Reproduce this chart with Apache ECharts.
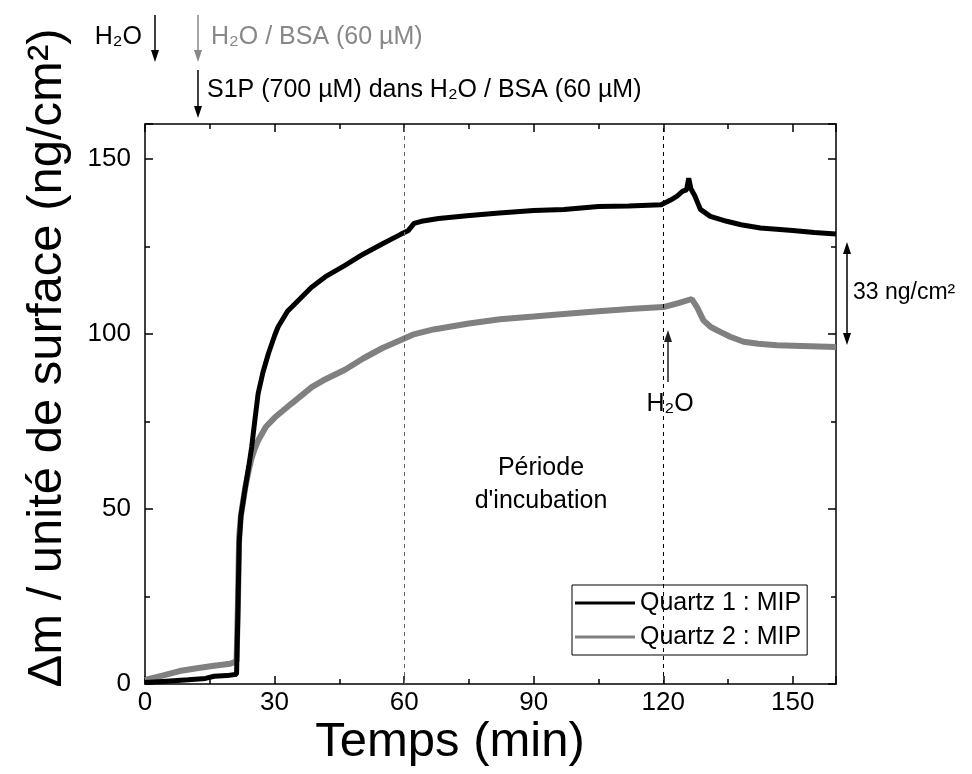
<!DOCTYPE html>
<html>
<head>
<meta charset="utf-8">
<script src="https://cdn.jsdelivr.net/npm/echarts@6/dist/echarts.min.js"></script>
<style>
  html, body { margin: 0; padding: 0; background: #fff; }
  #main { width: 972px; height: 774px; }
</style>
</head>
<body>
<div id="main"></div>
<script>
// temps (min), masse (ng/cm2)
var quartz1 = [
  [0, 0.4], [5, 0.8], [10, 1.2], [14, 1.6], [16, 2.2], [19, 2.4], [21.2, 2.8],
  [21.5, 20], [21.8, 40], [22.2, 48], [23.2, 56], [24, 62], [24.7, 67.7], [25.5, 76],
  [26.2, 83], [27.3, 89], [28.6, 94.5], [30, 99.5], [30.8, 102], [33, 106.5],
  [35.5, 109.6], [38.5, 113.3], [41.7, 116.3], [46.3, 119.6], [50.5, 122.8],
  [55, 125.8], [59.1, 128.4], [61, 129.6], [62.3, 131.6], [64, 132.2], [68, 133],
  [74.5, 133.8], [82, 134.6], [90, 135.3], [97, 135.6], [105, 136.4], [112, 136.6],
  [119.5, 136.9], [121.6, 138.2], [123.2, 139.4], [124.5, 140.8], [125.4, 141.2],
  [125.9, 144.5], [126.4, 141.5], [127.3, 139.5], [128.6, 135.6], [130.9, 133.6],
  [134.7, 132.2], [138, 131.2], [142.5, 130.3], [150, 129.6], [155, 129], [160, 128.6]
]
var quartz2 = [
  [0, 1.2], [4, 2.4], [8, 3.7], [12, 4.5], [16, 5.2], [19.7, 5.8], [21.2, 6.5],
  [21.5, 22], [21.8, 42], [22.2, 48], [23.2, 56], [24, 61], [24.7, 64.6], [25.4, 67.2],
  [26.2, 69.6], [28, 73.5], [30.1, 76.2], [34, 80.2], [38.6, 84.8], [41.2, 86.7],
  [46.3, 89.8], [50.5, 93], [55, 96], [59.1, 98.2], [62, 99.8], [66.8, 101.3],
  [75, 103], [82.2, 104.2], [90, 105], [97.7, 105.8], [105, 106.5], [113, 107.2],
  [120, 107.7], [123.5, 108.8], [126.6, 110], [127.8, 107.7], [129.3, 103.9],
  [131, 102], [133.2, 100.6], [135.5, 99.2], [138.6, 97.8], [142, 97.2],
  [146.3, 96.8], [152, 96.6], [160, 96.3]
]
var seriesNames = ['Quartz 1 : MIP', 'Quartz 2 : MIP']
var incubationLines = [60, 120]
var xRange = [0, 160, 30]   // min, max, interval
var yRange = [0, 160, 50]

var font = 'Arial, "Liberation Sans", sans-serif'

function arrow(x, y1, y2, color) {
  // fleche verticale, pointe en y2
  var dir = y2 > y1 ? 1 : -1
  return [
    { type: 'line', shape: { x1: x, y1: y1, x2: x, y2: y2 - dir * 10 }, style: { stroke: color, lineWidth: 1.5 } },
    { type: 'polygon', shape: { points: [[x - 4, y2 - dir * 12], [x + 4, y2 - dir * 12], [x, y2]] }, style: { fill: color } }
  ]
}

function txt(text, x, y, size, color, align) {
  return {
    type: 'text', x: x, y: y,
    style: { text: text, font: size + 'px ' + font, fill: color || '#000', textAlign: align || 'left', textVerticalAlign: 'middle' }
  }
}

var tickStyle = { color: '#000', width: 1.5 }

function axisX(pos, labels) {
  return {
    type: 'value', position: pos, min: xRange[0], max: xRange[1], interval: xRange[2],
    axisLine: { show: true, onZero: false, lineStyle: tickStyle },
    axisTick: { show: true, inside: true, length: 8, lineStyle: tickStyle },
    minorTick: { show: true, splitNumber: 2, length: 5, lineStyle: tickStyle },
    axisLabel: { show: labels, showMaxLabel: false, color: '#000', fontSize: 26, fontFamily: font, margin: 6 },
    splitLine: { show: false }
  }
}

function axisY(pos, labels) {
  return {
    type: 'value', position: pos, min: yRange[0], max: yRange[1], interval: yRange[2],
    axisLine: { show: true, onZero: false, lineStyle: tickStyle },
    axisTick: { show: true, inside: true, length: 8, lineStyle: tickStyle },
    minorTick: { show: true, splitNumber: 2, length: 5, lineStyle: tickStyle },
    axisLabel: { show: labels, showMaxLabel: false, color: '#000', fontSize: 26, fontFamily: font, margin: 14 },
    splitLine: { show: false }
  }
}

var myChart = echarts.init(document.getElementById('main'))

var graphics = []
  .concat(arrow(155, 15, 62, '#000'))
  .concat(arrow(198, 15, 62, '#888'))
  .concat(arrow(198, 70, 118, '#000'))
  .concat([
    txt('H₂O', 142, 37, 25, '#000', 'right'),
    txt('H₂O / BSA (60 µM)', 211, 37, 25, '#888'),
    txt('S1P (700 µM) dans H₂O / BSA (60 µM)', 207, 90, 25, '#000'),
    txt('33 ng/cm²', 853, 293, 23, '#000'),
    txt('Période', 541, 468, 25, '#000', 'center'),
    txt("d'incubation", 541, 501, 25, '#000', 'center'),
    txt('H₂O', 670, 404, 25, '#000', 'center'),
    {
      type: 'text', x: 47, y: 358, rotation: Math.PI / 2,
      style: { text: 'Δm / unité de surface (ng/cm²)', font: '49px ' + font, fill: '#000', textAlign: 'center', textVerticalAlign: 'middle' }
    },
    {
      type: 'text', x: 450, y: 742,
      style: { text: 'Temps (min)', font: '49px ' + font, fill: '#000', textAlign: 'center', textVerticalAlign: 'middle' }
    }
  ])
  .concat(arrow(847, 290, 242, '#000'))
  .concat(arrow(847, 290, 345, '#000'))
  .concat(arrow(668, 382, 330, '#222'))

var option = {
  animation: false,
  backgroundColor: '#fff',
  grid: { left: 145, right: 136, top: 124, bottom: 90 },
  legend: {
    data: seriesNames,
    orient: 'vertical',
    left: 572, top: 585,
    icon: 'rect',
    itemWidth: 60, itemHeight: 3, itemGap: 8,
    padding: [5, 6, 5, 3],
    borderColor: '#000', borderWidth: 1, borderRadius: 0,
    backgroundColor: '#fff',
    textStyle: { color: '#000', fontSize: 25, fontFamily: font, lineHeight: 26 }
  },
  xAxis: [axisX('bottom', true), axisX('top', false)],
  yAxis: [axisY('left', true), axisY('right', false)],
  graphic: graphics,
  series: [
    {
      name: seriesNames[0],
      type: 'line',
      data: quartz1,
      showSymbol: false,
      symbol: 'none',
      color: '#000',
      lineStyle: { color: '#000', width: 5 },
      z: 3,
      markLine: {
        silent: true,
        symbol: 'none',
        label: { show: false },
        lineStyle: { type: [4, 4], width: 1 },
        data: [
          { xAxis: incubationLines[0], lineStyle: { color: '#666' } },
          { xAxis: incubationLines[1], lineStyle: { color: '#000' } }
        ]
      }
    },
    {
      name: seriesNames[1],
      type: 'line',
      data: quartz2,
      showSymbol: false,
      symbol: 'none',
      color: '#808080',
      lineStyle: { color: '#808080', width: 6 },
      z: 2
    }
  ]
}

myChart.setOption(option)
</script>
</body>
</html>
